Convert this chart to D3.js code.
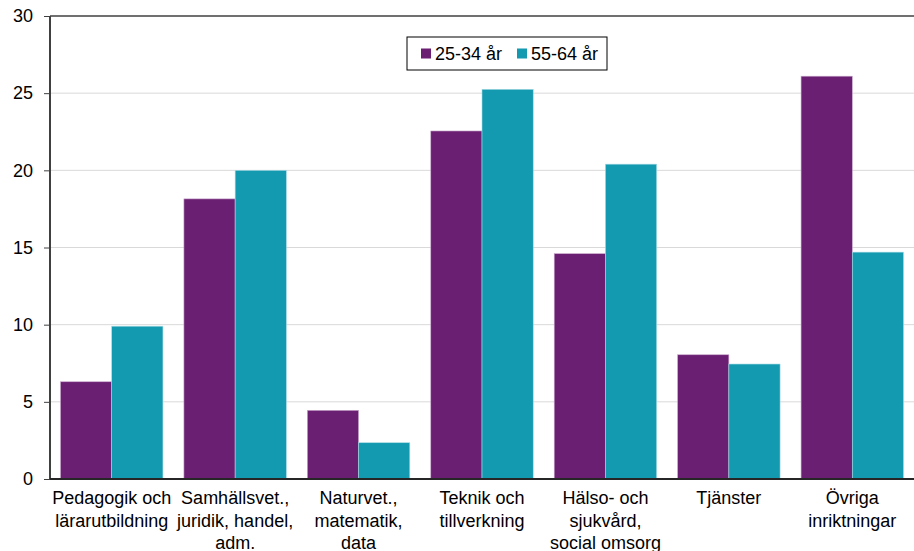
<!DOCTYPE html>
<html><head><meta charset="utf-8">
<script src="https://cdn.jsdelivr.net/npm/d3@7"></script>
<style>body{margin:0;background:#fff}svg{display:block;font-family:"Liberation Sans",Arial,sans-serif}</style>
</head><body><svg id="c" width="914" height="551"></svg>
<script>
const categories = [
  ["Pedagogik och","lärarutbildning"],
  ["Samhällsvet.,","juridik, handel,","adm."],
  ["Naturvet.,","matematik,","data"],
  ["Teknik och","tillverkning"],
  ["Hälso- och","sjukvård,","social omsorg"],
  ["Tjänster"],
  ["Övriga","inriktningar"]
];
const seriesNames = ["25-34 år","55-64 år"];
const young = [6.3, 18.15, 4.45, 22.55, 14.6, 8.05, 26.1];
const old = [9.9, 20.0, 2.35, 25.25, 20.4, 7.45, 14.7];
const yTicks = [0,5,10,15,20,25,30];
const colors = ["#6B1F72","#1399B0"];

const svg = d3.select("#c");
const L=50, R=914, T=16, B=479;
const FS=18;
const x0 = d3.scaleBand().domain(d3.range(categories.length)).range([L,R]).paddingInner(0.17).paddingOuter(0.085);
const x1 = d3.scaleBand().domain([0,1]).range([0,x0.bandwidth()]);
const y = d3.scaleLinear().domain([0,30]).range([B,T]);

// grid
svg.append("g").selectAll("line").data(yTicks.filter(d=>d>0&&d<30)).join("line")
  .attr("x1",L).attr("x2",R).attr("y1",d=>y(d)).attr("y2",d=>y(d))
  .attr("stroke","#d9d9d9").attr("stroke-width",1);
svg.append("line").attr("x1",L).attr("x2",R).attr("y1",y(30)).attr("y2",y(30)).attr("stroke","#707070").attr("stroke-width",2);

const data = [young, old];
data.forEach((vals,si)=>{
  svg.append("g").selectAll("rect").data(vals).join("rect")
    .attr("x",(d,i)=>x0(i)+x1(si)).attr("width",x1.bandwidth())
    .attr("y",d=>y(d)).attr("height",d=>B-y(d))
    .attr("fill",colors[si]).attr("stroke",si===0?"#c9a8cc":"#a8dbe4").attr("stroke-width",0.6);
});

// y axis
const ya = svg.append("g").attr("transform",`translate(${L},0)`).call(d3.axisLeft(y).tickValues(yTicks).tickSize(6).tickPadding(11));
ya.select(".domain").remove();
ya.selectAll(".tick line").attr("stroke","#404040");
ya.selectAll("text").attr("font-size",FS).attr("fill","#000").attr("font-family","Liberation Sans, Arial, sans-serif");
svg.append("line").attr("x1",L).attr("x2",L).attr("y1",T).attr("y2",B).attr("stroke","#404040").attr("stroke-width",2);
svg.append("line").attr("x1",L).attr("x2",R).attr("y1",B).attr("y2",B).attr("stroke","#262626").attr("stroke-width",2);

// x labels
const xl = svg.append("g");
categories.forEach((lines,i)=>{
  const t = xl.append("text").attr("x",x0(i)+x0.bandwidth()/2).attr("y",504)
    .attr("text-anchor","middle").attr("font-size",FS).attr("fill","#000");
  lines.forEach((s,j)=>t.append("tspan").attr("x",x0(i)+x0.bandwidth()/2).attr("dy",j===0?0:22.5).text(s));
});

// legend
const lg = svg.append("g");
lg.append("rect").attr("x",407).attr("y",37).attr("width",200).attr("height",33).attr("fill","#fff").attr("stroke","#000").attr("stroke-width",1);
const lx=[421,517];
seriesNames.forEach((n,i)=>{
  lg.append("rect").attr("x",lx[i]).attr("y",48.5).attr("width",10).attr("height",10).attr("fill",colors[i]);
  lg.append("text").attr("x",lx[i]+14).attr("y",60).attr("font-size",FS).attr("fill","#000").text(n);
});
</script></body></html>
